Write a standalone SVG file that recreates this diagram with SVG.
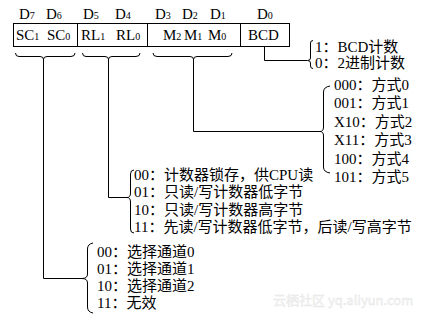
<svg xmlns="http://www.w3.org/2000/svg" width="424" height="318" viewBox="0 0 424 318">
<style>
.t{font-family:"Liberation Serif","Noto Sans CJK SC",serif;font-size:15px;fill:#000}
.h{font-family:"Liberation Serif",serif;font-size:15px;fill:#000}
.s{font-size:10px}
.ln{fill:none;stroke:#000;stroke-width:1}
.wm{font-family:"Noto Sans CJK SC","Liberation Sans",sans-serif;font-size:13px;fill:#f4f4f4;stroke:#e6e6e6;stroke-width:0.4}
</style>
<rect width="424" height="318" fill="#fff"/>
<g id="register">
<rect class="ln" x="13.5" y="23.5" width="276" height="23"/>
<line class="ln" x1="77.5" y1="23.5" x2="77.5" y2="46.5"/>
<line class="ln" x1="147.5" y1="23.5" x2="147.5" y2="46.5"/>
<line class="ln" x1="240.5" y1="23.5" x2="240.5" y2="46.5"/>
<text class="h" x="19" y="19">D<tspan class="s">7</tspan></text>
<text class="h" x="46" y="19">D<tspan class="s">6</tspan></text>
<text class="h" x="83" y="19">D<tspan class="s">5</tspan></text>
<text class="h" x="115" y="19">D<tspan class="s">4</tspan></text>
<text class="h" x="155" y="19">D<tspan class="s">3</tspan></text>
<text class="h" x="182" y="19">D<tspan class="s">2</tspan></text>
<text class="h" x="210" y="19">D<tspan class="s">1</tspan></text>
<text class="h" x="257" y="19">D<tspan class="s">0</tspan></text>
<text class="h" x="16" y="40">SC<tspan class="s">1</tspan></text>
<text class="h" x="47" y="40">SC<tspan class="s">0</tspan></text>
<text class="h" x="81" y="40">RL<tspan class="s">1</tspan></text>
<text class="h" x="116" y="40">RL<tspan class="s">0</tspan></text>
<text class="h" x="163" y="40">M<tspan class="s">2</tspan></text>
<text class="h" x="184" y="40">M<tspan class="s">1</tspan></text>
<text class="h" x="208" y="40">M<tspan class="s">0</tspan></text>
<text class="h" x="248" y="40">BCD</text>
</g>
<g id="connectors">
<path class="ln" d="M15.5,53 Q15.5,56.5 19,56.5 L40,56.5 Q43.5,56.5 43.5,59.5 Q43.5,56.5 47,56.5 L71,56.5 Q75,56.5 75,53"/>
<path class="ln" d="M82.5,53 Q82.5,56.5 86,56.5 L105,56.5 Q108.5,56.5 108.5,59.5 Q108.5,56.5 112,56.5 L136,56.5 Q140,56.5 140,53"/>
<path class="ln" d="M153,53 Q153,56.5 157,56.5 L190,56.5 Q193.5,56.5 193.5,59.5 Q193.5,56.5 197,56.5 L228,56.5 Q232,56.5 232,53"/>
<path class="ln" d="M43.5,59 L43.5,278.5 L82,278.5"/>
<path class="ln" d="M108.5,59 L108.5,197.5 L127,197.5"/>
<path class="ln" d="M193.5,59 L193.5,131.5 L320,131.5"/>
<path class="ln" d="M264.5,46.5 L264.5,60.5 L307,60.5"/>
<path class="ln" d="M313,40.5 Q310.5,40.5 310.5,43 L310.5,58 Q310.5,60.5 307.5,60.5 Q310.5,60.5 310.5,63 L310.5,66 Q310.5,68.5 313,68.5"/>
<path class="ln" d="M330,86 Q323.5,87 323.5,92 L323.5,127 Q323.5,131.5 320,131.5 Q323.5,131.5 323.5,136 L323.5,167 Q323.5,172 330,173"/>
<path class="ln" d="M134,170 Q130.5,170 130.5,174 L130.5,193 Q130.5,197.5 127,197.5 Q130.5,197.5 130.5,202 L130.5,229 Q130.5,233 134,233"/>
<path class="ln" d="M93,243 Q87.5,244 87.5,249 L87.5,274 Q87.5,278.5 82,278.5 Q87.5,278.5 87.5,283 L87.5,307 Q87.5,312 93,313"/>
</g>
<g id="bcd-list">
<text class="t" x="315" y="52">1：BCD计数</text>
<text class="t" x="315" y="68">0：2进制计数</text>
</g>
<g id="mode-list">
<text class="t" x="334" y="90">000：方式0</text>
<text class="t" x="334" y="108.4">001：方式1</text>
<text class="t" x="334" y="126.8">X10：方式2</text>
<text class="t" x="334" y="145.2">X11：方式3</text>
<text class="t" x="334" y="163.6">100：方式4</text>
<text class="t" x="334" y="182">101：方式5</text>
</g>
<g id="rl-list">
<text class="t" x="134" y="180">00：计数器锁存，供CPU读</text>
<text class="t" x="134" y="197.3">01：只读/写计数器低字节</text>
<text class="t" x="134" y="214.6">10：只读/写计数器高字节</text>
<text class="t" x="134" y="232">11：先读/写计数器低字节，后读/写高字节</text>
</g>
<g id="sc-list">
<text class="t" x="97" y="257">00：选择通道0</text>
<text class="t" x="97" y="274">01：选择通道1</text>
<text class="t" x="97" y="291">10：选择通道2</text>
<text class="t" x="97" y="308">11：无效</text>
</g>
<text class="wm" x="273" y="305">云栖社区 yq.aliyun.com</text>
</svg>
